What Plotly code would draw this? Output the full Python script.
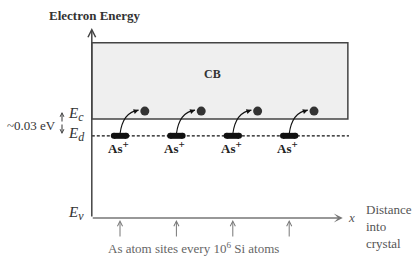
import plotly.graph_objects as go

# ---- data (schematic units) ----
donor_sites = [1, 2, 3, 4]                    # As atom sites along x
level_names = ["Ev", "Ed", "Ec", "CB_top"]
level_values = [0.0, 0.83, 1.0, 1.77]         # band energies (schematic)
energy_axis_top = 1.92
x_axis_end = 4.95
x_left = 0.5
cb_right = 5.04
electron_energy = 1.08
electron_shift = 0.44
levels = dict(zip(level_names, level_values))
Ev, Ed, Ec, CBt = (levels[k] for k in level_names)

W, H = 412, 257
# layout mapping of the hidden axes to the canvas
def px2x(p): return (p - 63.6) / 56.4
def py2y(p): return (218 - p) / 99.0

SERIF = "Liberation Serif"
fig = go.Figure()

# donors (rounded bars)
for s in donor_sites:
    fig.add_trace(go.Scatter(x=[s - 0.11, s + 0.11], y=[Ed, Ed], mode="lines+markers",
                             line=dict(color="#111", width=6),
                             marker=dict(color="#111", size=6),
                             hoverinfo="skip", showlegend=False))
# electrons
fig.add_trace(go.Scatter(x=[s + electron_shift for s in donor_sites],
                         y=[electron_energy] * len(donor_sites), mode="markers",
                         marker=dict(color="#333", size=9),
                         hoverinfo="skip", showlegend=False))

shapes = []
# CB box
shapes.append(dict(type="rect", x0=x_left, x1=cb_right, y0=Ec, y1=CBt,
                   fillcolor="#efefef", line=dict(color="#444", width=1.5), layer="below"))
# Ed dotted level
shapes.append(dict(type="line", x0=x_left, x1=cb_right + 0.02, y0=Ed, y1=Ed,
                   line=dict(color="#111", width=1.2, dash="3px,2px")))
# curved arrows
annotations = []
for s in donor_sites:
    x0, y0 = s, Ed + 0.02
    cx, cy = s + 0.05, Ec + 0.07
    x1, y1 = s + 0.33, electron_energy + 0.01
    shapes.append(dict(type="path", path=f"M {x0},{y0} Q {cx},{cy} {x1},{y1}",
                       line=dict(color="#111", width=1.1)))
    annotations.append(dict(x=x1, y=y1, ax=-6, ay=2, xref="x", yref="y", text="",
                            showarrow=True, arrowhead=2, arrowsize=0.9, arrowwidth=1.1,
                            arrowcolor="#111", standoff=0))
    # As+ label
    annotations.append(dict(x=s - 0.03, y=py2y(147), xref="x", yref="y",
                            text="<b>As<sup><span style='font-size:11px'>+</span></sup></b>",
                            showarrow=False,
                            font=dict(family=SERIF, size=13, color="#222")))
    # upward site arrows
    annotations.append(dict(x=s, y=py2y(220), ax=s, ay=py2y(238), xref="x", yref="y",
                            axref="x", ayref="y", text="", showarrow=True, arrowhead=5,
                            arrowsize=1, arrowwidth=1, arrowcolor="#777", standoff=0))

# energy axis
annotations.append(dict(x=x_left, y=energy_axis_top, ax=x_left, ay=Ev, xref="x", yref="y",
                        axref="x", ayref="y", text="", showarrow=True, arrowhead=5,
                        arrowsize=1, arrowwidth=1.5, arrowcolor="#444", standoff=0))
# distance axis
annotations.append(dict(x=x_axis_end, y=Ev, ax=x_left - 0.01, ay=Ev, xref="x", yref="y",
                        axref="x", ayref="y", text="", showarrow=True, arrowhead=3,
                        arrowsize=1, arrowwidth=1.5, arrowcolor="#777", standoff=0))
# ~0.03 eV double arrow
xm = px2x(62)
ymid = py2y(123)
annotations.append(dict(x=xm, y=py2y(112), ax=xm, ay=ymid, xref="x", yref="y",
                        axref="x", ayref="y", text="", showarrow=True, arrowhead=5,
                        arrowsize=0.8, arrowwidth=1, arrowcolor="#333", standoff=0))
annotations.append(dict(x=xm, y=py2y(134), ax=xm, ay=ymid, xref="x", yref="y",
                        axref="x", ayref="y", text="", showarrow=True, arrowhead=5,
                        arrowsize=0.8, arrowwidth=1, arrowcolor="#333", standoff=0))

def txt(x, y, t, size=12, color="#333", xanchor="center", align="center"):
    annotations.append(dict(x=x / W, y=1 - y / H, xref="paper", yref="paper", text=t,
                            showarrow=False, xanchor=xanchor, yanchor="middle", align=align,
                            font=dict(family=SERIF, size=size, color=color)))

def elabel(sub):
    return f"<i>E<sub><span style='font-size:12px'>{sub}</span></sub></i>"

txt(95, 15, "<b>Electron Energy</b>", 13, "#333")
txt(212, 74, "<b>CB</b>", 12, "#333")
txt(32, 125, "~0.03 eV", 13, "#333")
txt(76, 114, elabel("c"), 15, "#333")
txt(76, 134, elabel("d"), 15, "#333")
txt(76, 213, elabel("v"), 15, "#333")
txt(351, 217, "<i>x</i>", 13, "#555")
txt(364, 226, "Distance<br>into<br>crystal", 13, "#555", xanchor="left", align="left")
txt(193, 248, "As atom sites every 10<sup>6</sup> Si atoms", 13, "#666")

fig.update_layout(
    width=W, height=H, margin=dict(l=0, r=0, t=0, b=0),
    paper_bgcolor="white", plot_bgcolor="white",
    xaxis=dict(range=[px2x(0), px2x(W)], visible=False, fixedrange=True),
    yaxis=dict(range=[py2y(H), py2y(0)], visible=False, fixedrange=True),
    shapes=shapes, annotations=annotations, showlegend=False,
)
fig.write_html("out.html", config={"displayModeBar": False},
               post_script="document.body.style.margin='0';document.body.style.overflow='hidden';")
